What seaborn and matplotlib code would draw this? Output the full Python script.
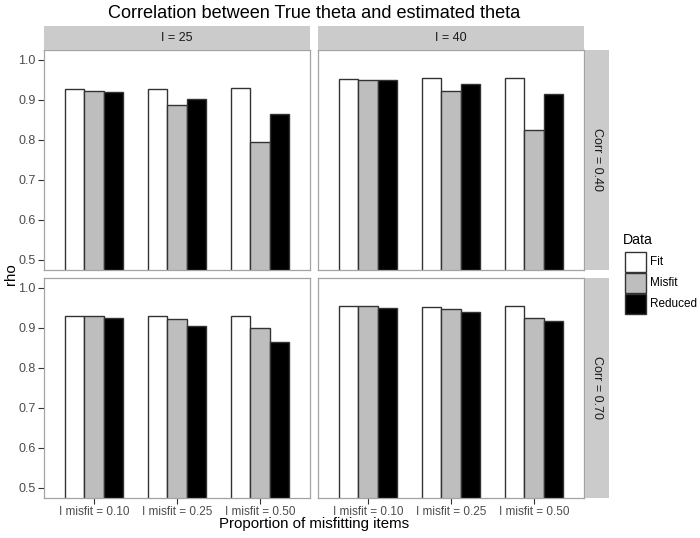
import matplotlib
matplotlib.use("Agg")
import matplotlib.pyplot as plt
import seaborn as sns
import pandas as pd
from matplotlib.patches import Rectangle

sns.set_style("white")
plt.rcParams['font.family'] = ['Liberation Sans', 'DejaVu Sans']

# ---- data ----
categories = ["I misfit = 0.10", "I misfit = 0.25", "I misfit = 0.50"]
series = ["Fit", "Misfit", "Reduced"]
col_labels = ["I = 25", "I = 40"]
row_labels = ["Corr = 0.40", "Corr = 0.70"]

# Corr = 0.40
fit_c40_i25 = [0.928, 0.928, 0.929]
misfit_c40_i25 = [0.923, 0.888, 0.795]
reduced_c40_i25 = [0.920, 0.903, 0.865]
fit_c40_i40 = [0.953, 0.954, 0.954]
misfit_c40_i40 = [0.951, 0.923, 0.824]
reduced_c40_i40 = [0.949, 0.941, 0.915]
# Corr = 0.70
fit_c70_i25 = [0.929, 0.929, 0.929]
misfit_c70_i25 = [0.930, 0.922, 0.900]
reduced_c70_i25 = [0.924, 0.905, 0.864]
fit_c70_i40 = [0.954, 0.953, 0.955]
misfit_c70_i40 = [0.954, 0.947, 0.924]
reduced_c70_i40 = [0.951, 0.940, 0.918]

yticks = [0.5, 0.6, 0.7, 0.8, 0.9, 1.0]

panel_data = {
    (0, 0): [fit_c40_i25, misfit_c40_i25, reduced_c40_i25],
    (0, 1): [fit_c40_i40, misfit_c40_i40, reduced_c40_i40],
    (1, 0): [fit_c70_i25, misfit_c70_i25, reduced_c70_i25],
    (1, 1): [fit_c70_i40, misfit_c70_i40, reduced_c70_i40],
}

W, H = 700, 538
fig = plt.figure(figsize=(W / 100, H / 100), dpi=100)


def rect(x0, y0, x1, y1):
    return [x0 / W, 1 - y1 / H, (x1 - x0) / W, (y1 - y0) / H]


xs = [(44, 310), (318, 584)]
ys = [(50, 270), (278, 498)]
strip_fill = "#CBCBCB"
border = "#A3A3A3"
txt_col = "#4D4D4D"
edge = "#333333"
palette = {"Fit": "white", "Misfit": "#BEBEBE", "Reduced": "black"}

for (r, c), vals in panel_data.items():
    ax = fig.add_axes(rect(xs[c][0], ys[r][0], xs[c][1], ys[r][1]))
    rows = []
    for s, v in zip(series, vals):
        for cat, val in zip(categories, v):
            rows.append({"prop": cat, "Data": s, "rho": val})
    df = pd.DataFrame(rows)
    sns.barplot(data=df, x="prop", y="rho", hue="Data", order=categories,
                hue_order=series, palette=palette, edgecolor=edge,
                linewidth=1.0, width=0.7, gap=0, ax=ax, legend=False,
                errorbar=None)
    ax.set_xlim(-0.6, 2.6)
    ax.set_ylim(0.475, 1.025)
    ax.set_xlabel("")
    ax.set_ylabel("")
    ax.set_yticks(yticks)
    for sp in ax.spines.values():
        sp.set_color(border)
        sp.set_linewidth(0.9)
        sp.set_visible(True)
    ax.tick_params(axis="both", which="both", length=4, width=0.8,
                   color=edge, labelcolor=txt_col, pad=2)
    ax.tick_params(axis="x", labelsize=8.5, pad=2)
    ax.tick_params(axis="y", labelsize=9)
    if c == 0:
        ax.tick_params(axis="y", left=True, labelleft=True)
        ax.set_yticklabels([f"{t:.1f}" for t in yticks])
    else:
        ax.tick_params(axis="y", left=False, labelleft=False)
    if r == 1:
        ax.tick_params(axis="x", bottom=True, labelbottom=True)
        ax.set_xticks(range(len(categories)))
        ax.set_xticklabels(categories)
    else:
        ax.tick_params(axis="x", bottom=False, labelbottom=False)

# column strips
for c, lab in enumerate(col_labels):
    sax = fig.add_axes(rect(xs[c][0], 26, xs[c][1], 50))
    sax.set_facecolor(strip_fill)
    sax.set_xticks([]); sax.set_yticks([])
    for sp in sax.spines.values():
        sp.set_visible(False)
    sax.text(0.5, 0.5, lab, ha="center", va="center", fontsize=9,
             color="#1A1A1A", transform=sax.transAxes)

# row strips
for r, lab in enumerate(row_labels):
    sax = fig.add_axes(rect(584.5, ys[r][0], 609, ys[r][1]))
    sax.set_facecolor(strip_fill)
    sax.set_xticks([]); sax.set_yticks([])
    for sp in sax.spines.values():
        sp.set_visible(False)
    sax.text(0.5, 0.5, lab, ha="center", va="center", fontsize=9,
             color="#1A1A1A", rotation=-90, transform=sax.transAxes)

# titles
fig.text(314 / W, 1 - 13 / H, "Correlation between True theta and estimated theta",
         ha="center", va="center", fontsize=13.1, color="black")
fig.text(314 / W, 1 - 524 / H, "Proportion of misfitting items",
         ha="center", va="center", fontsize=10.8, color="black")
fig.text(11 / W, 1 - 274 / H, "rho", ha="center", va="center",
         fontsize=10.8, rotation=90, color="black")

# legend (drawn in pixel coordinates on an overlay axes)
lax = fig.add_axes([0, 0, 1, 1])
lax.set_xlim(0, W)
lax.set_ylim(H, 0)
lax.axis("off")
lax.patch.set_alpha(0)
lax.text(623, 240, "Data", ha="left", va="center", fontsize=10.2, color="black")
key_top = 251.5
key_h = 21.0
for i, s in enumerate(series):
    y0 = key_top + i * key_h
    lax.add_patch(Rectangle((625, y0), 21, key_h - 0.8, facecolor=palette[s],
                            edgecolor=edge, linewidth=1.0))
    lax.text(650, y0 + key_h / 2, s, ha="left", va="center", fontsize=8.5,
             color="black")

fig.savefig("out.png", dpi=100)
